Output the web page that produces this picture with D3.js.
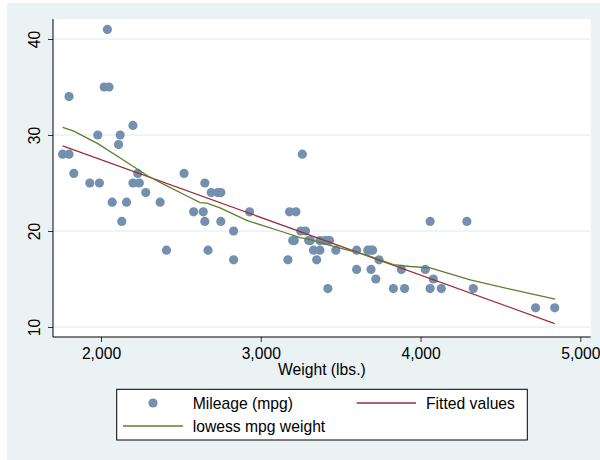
<!DOCTYPE html>
<html><head><meta charset="utf-8">
<script src="https://cdn.jsdelivr.net/npm/d3@7"></script>
<style>html,body{margin:0;padding:0;background:#fff;}svg{display:block;font-family:"Liberation Sans",Arial,sans-serif;}</style>
</head><body><div id="chart"></div>
<script>
// Data: 1978 automobile data (weight in lbs, mileage in mpg)
const weight = [2930,3350,2640,3250,4080,3670,2230,3280,3880,3400,4330,3900,4290,2110,3690,3180,3220,2750,3430,2120,3600,3600,3740,1800,2650,4840,4720,3830,2580,4060,3720,3370,4130,2830,4060,3310,3300,3690,3370,2730,4030,3260,1800,2200,2520,3330,3700,3470,3210,3200,3420,2690,2830,2070,2650,2370,2020,2280,2750,2130,2240,1760,1980,3420,1830,2050,2410,2200,2670,2160,2040,1930,1990,3170];
const mpg = [22,17,22,20,15,18,26,20,16,19,14,14,21,29,16,22,22,24,19,30,18,16,17,28,21,12,12,14,22,14,15,18,14,20,21,19,19,18,19,24,16,28,34,25,26,18,18,18,19,19,19,24,17,23,25,23,35,24,21,21,25,28,30,14,26,35,18,31,18,23,41,25,25,17];
// Fitted values (linear regression), read at the ends
const fitWeight = [1760, 4840];
const fitMpg = [28.87, 10.36];
// lowess mpg weight
const lowWeight = [1760,1830,1980,2130,2296,2400,2526,2620,2662,2745,2912,3121,3246,3309,3455,3664,3830,3935,4060,4311,4624,4843];
const lowMpg = [30.8,30.4,29.1,27.5,25.7,24.8,23.75,22.95,22.9,22.4,21.1,20.0,19.3,19.1,18.4,17.5,16.5,16.3,16.15,14.9,13.7,12.9];
const xTicks = [2000,3000,4000,5000];
const yTicks = [10,20,30,40];
const xTitle = "Weight (lbs.)";
const legendItems = ["Mileage (mpg)", "Fitted values", "lowess mpg weight"];

const W = 600, H = 460;
const bg = "#EAF2F3";
const markerColor = "#7490AE", fitColor = "#9A2F3A", lowColor = "#5A7F2E";
const fs = 15.7;
const plot = {l: 53, r: 590.7, t: 19, b: 337};

const svg = d3.select("#chart").append("svg").attr("width", W).attr("height", H);
svg.append("rect").attr("x", 7).attr("y", 3).attr("width", W - 7).attr("height", H - 3).attr("fill", bg);
svg.append("rect").attr("x", plot.l).attr("y", plot.t).attr("width", plot.r - plot.l).attr("height", plot.b - plot.t).attr("fill", "#fff");

const x = d3.scaleLinear().domain([2000, 5000]).range([101, 580.3]);
const y = d3.scaleLinear().domain([10, 40]).range([327, 39]);

// grid
svg.append("g").selectAll("line").data(yTicks).join("line")
  .attr("x1", plot.l).attr("x2", plot.r).attr("y1", d => y(d)).attr("y2", d => y(d))
  .attr("stroke", bg).attr("stroke-width", 1.6);

// points
svg.append("g").selectAll("circle").data(weight.map((w, i) => [w, mpg[i]])).join("circle")
  .attr("cx", d => x(d[0])).attr("cy", d => y(d[1])).attr("r", 4.6).attr("fill", markerColor);

const line = d3.line().x(d => x(d[0])).y(d => y(d[1]));
svg.append("path").datum(fitWeight.map((w, i) => [w, fitMpg[i]])).attr("d", line)
  .attr("fill", "none").attr("stroke", fitColor).attr("stroke-width", 1.3);
svg.append("path").datum(lowWeight.map((w, i) => [w, lowMpg[i]])).attr("d", line)
  .attr("fill", "none").attr("stroke", lowColor).attr("stroke-width", 1.3);

// axes
const xa = svg.append("g").attr("transform", `translate(0,${plot.b})`)
  .call(d3.axisBottom(x).tickValues(xTicks).tickFormat(d3.format(",")).tickSize(5).tickPadding(6));
xa.select(".domain").remove();
xa.selectAll("line").attr("stroke", "#333");
xa.selectAll("text").attr("font-size", fs).attr("fill", "#000").attr("font-family", "Liberation Sans, Arial, sans-serif");

const ya = svg.append("g").attr("transform", `translate(${plot.l},0)`)
  .call(d3.axisLeft(y).tickValues(yTicks).tickSize(5).tickPadding(0));
ya.select(".domain").remove();
ya.selectAll("line").attr("stroke", "#333");
ya.selectAll("text").attr("font-size", fs).attr("fill", "#000").attr("font-family", "Liberation Sans, Arial, sans-serif")
  .attr("x", null).attr("dy", null).attr("text-anchor", "middle")
  .attr("transform", "translate(-13,0) rotate(-90)");

svg.append("line").attr("x1", plot.l).attr("x2", plot.l).attr("y1", plot.t).attr("y2", plot.b).attr("stroke", "#000").attr("stroke-width", 1);
svg.append("line").attr("x1", plot.l).attr("x2", plot.r).attr("y1", plot.b).attr("y2", plot.b).attr("stroke", "#000").attr("stroke-width", 1);

svg.append("text").attr("x", (plot.l + plot.r) / 2).attr("y", 375).attr("text-anchor", "middle")
  .attr("font-size", fs).text(xTitle);

// legend
const lg = svg.append("g");
lg.append("rect").attr("x", 116.7).attr("y", 389.3).attr("width", 410.6).attr("height", 50.7)
  .attr("fill", "#fff").attr("stroke", "#000").attr("stroke-width", 1);
lg.append("circle").attr("cx", 153).attr("cy", 403).attr("r", 4.6).attr("fill", markerColor);
lg.append("text").attr("x", 192.7).attr("y", 408.8).attr("font-size", fs).text(legendItems[0]);
lg.append("line").attr("x1", 356.7).attr("x2", 416).attr("y1", 403).attr("y2", 403).attr("stroke", fitColor).attr("stroke-width", 1.3);
lg.append("text").attr("x", 426).attr("y", 408.8).attr("font-size", fs).text(legendItems[1]);
lg.append("line").attr("x1", 123).attr("x2", 183).attr("y1", 426).attr("y2", 426).attr("stroke", lowColor).attr("stroke-width", 1.3);
lg.append("text").attr("x", 192.7).attr("y", 431.8).attr("font-size", fs).text(legendItems[2]);
</script></body></html>
